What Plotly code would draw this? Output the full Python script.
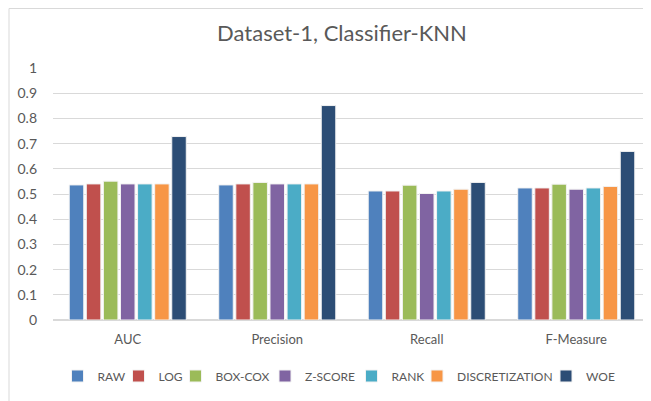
import plotly.graph_objects as go

# Metric groups along the x axis
categories = ["AUC", "Precision", "Recall", "F-Measure"]

# One series per transformation
raw = [0.536, 0.536, 0.512, 0.524]
log_ = [0.540, 0.540, 0.512, 0.524]
box_cox = [0.551, 0.546, 0.535, 0.539]
z_score = [0.540, 0.540, 0.502, 0.519]
rank = [0.540, 0.540, 0.512, 0.524]
discretization = [0.540, 0.540, 0.519, 0.530]
woe = [0.728, 0.851, 0.546, 0.669]

series = [
    ("RAW", raw, "#4F81BD"),
    ("LOG", log_, "#C0504D"),
    ("BOX-COX", box_cox, "#9BBB59"),
    ("Z-SCORE", z_score, "#8064A2"),
    ("RANK", rank, "#4BACC6"),
    ("DISCRETIZATION", discretization, "#F79646"),
    ("WOE", woe, "#2C4D75"),
]

# page pixels where each legend entry is centred (Excel spaces them unevenly,
# so every entry gets its own one-item legend)
legend_centres = [94.5, 153.5, 225.5, 313, 390.5, 487.5, 583]

FIG_W, FIG_H = 643, 393  # the page body adds an 8px offset on the left and top
OFFSET = 8

fig = go.Figure()
legend_layouts = {}
for idx, (name, values, color) in enumerate(series):
    legend_id = "legend" if idx == 0 else f"legend{idx + 1}"
    fig.add_trace(
        go.Bar(
            x=categories,
            y=values,
            name=name,
            legend=legend_id,
            marker=dict(color=color, line=dict(color="#f2f2f2", width=1)),
        )
    )
    legend_layouts[legend_id] = dict(
        orientation="h",
        xref="container",
        yref="container",
        x=(legend_centres[idx] - OFFSET) / FIG_W,
        xanchor="center",
        y=1 - (376 - OFFSET) / FIG_H,
        yanchor="middle",
        bgcolor="rgba(0,0,0,0)",
        font=dict(size=12, color="#595959"),
        itemwidth=30,
    )

font_family = "Lato, 'Open Sans', sans-serif"

fig.update_layout(
    width=FIG_W,
    height=FIG_H,
    margin=dict(l=45, r=0, t=60, b=81, autoexpand=False),
    paper_bgcolor="white",
    plot_bgcolor="white",
    barmode="group",
    bargap=0.2,
    bargroupgap=0.15,
    font=dict(family=font_family, color="#595959", size=13),
    title=dict(
        text="Dataset-1, Classifier-KNN",
        x=(342 - OFFSET) / FIG_W,
        xanchor="center",
        xref="container",
        y=1 - (33 - OFFSET) / FIG_H,
        yanchor="middle",
        font=dict(size=22, color="#595959", family=font_family),
    ),
    showlegend=True,
    **legend_layouts,
)

fig.update_yaxes(
    range=[0, 1],
    dtick=0.1,
    tickformat="~g",
    showgrid=True,
    gridcolor="#d9d9d9",
    gridwidth=1,
    zeroline=True,
    zerolinecolor="#d9d9d9",
    showline=False,
    ticks="",
    ticklabelstandoff=15,
    automargin=False,
    tickfont=dict(size=14, color="#595959"),
)
fig.update_xaxes(
    showgrid=False,
    showline=False,
    ticks="",
    ticklabelstandoff=10,
    automargin=False,
    tickfont=dict(size=13, color="#595959"),
)

# light frame around the chart, as in the exported image
fig.add_shape(
    type="rect",
    xref="paper",
    yref="paper",
    x0=-44 / 598,
    x1=1.05,
    y0=-0.5,
    y1=59.5 / 252 + 1,
    line=dict(color="#d9d9d9", width=1),
    layer="below",
)

fig.write_html("out.html")
